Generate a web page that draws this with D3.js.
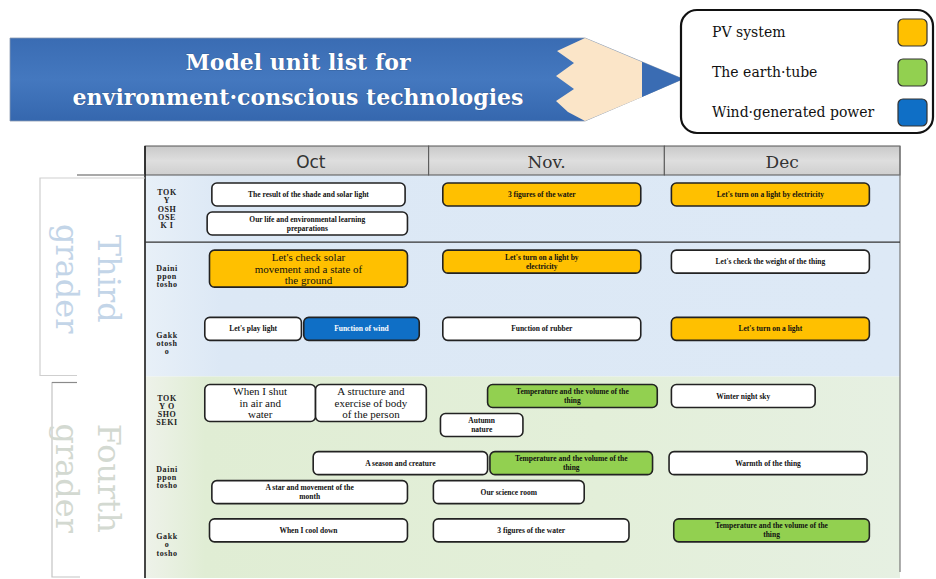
<!DOCTYPE html>
<html><head><meta charset="utf-8">
<script src="https://cdn.jsdelivr.net/npm/d3@7"></script>
<style>html,body{margin:0;padding:0;background:#fff}svg{display:block}</style>
</head><body>
<svg id="chart" width="936" height="579"></svg>
<script>
// ---------------- data ----------------
const titleLines = ["Model unit list for", "environment·conscious technologies"];
const months = ["Oct", "Nov.", "Dec"];
const gradeLabels = [["Third", "grader"], ["Fourth", "grader"]];
const rowLabels = [
  ["TOK", "Y", "OSH", "OSE", "K I"],
  ["Daini", "ppon", "tosho"],
  ["Gakk", "otosh", "o"],
  ["TOK", "Y O", "SHO", "SEKI"],
  ["Daini", "ppon", "tosho"],
  ["Gakk", "o", "tosho"]
];
const legendLabels = ["PV system", "The earth·tube", "Wind·generated power"];
const legendKeys = ["pv", "earth", "wind"];

const unitTitles = [
  "The result of the shade and solar light",
  "Our life and environmental learning\npreparations",
  "3 figures of the water",
  "Let's turn on a light by electricity",
  "Let's check solar\nmovement and a state of\nthe ground",
  "Let's turn on a light by\nelectricity",
  "Let's check the weight of the thing",
  "Let's play light",
  "Function of wind",
  "Function of rubber",
  "Let's turn on a light",
  "When I shut\nin air and\nwater",
  "A structure and\nexercise of body\nof the person",
  "Temperature and the volume of the\nthing",
  "Autumn\nnature",
  "Winter night sky",
  "A season and creature",
  "Temperature and the volume of the\nthing",
  "Warmth of the thing",
  "A star and movement of the\nmonth",
  "Our science room",
  "When I cool down",
  "3 figures of the water",
  "Temperature and the volume of the\nthing"
];
const unitRow   = [0,0,0,0, 1,1,1, 2,2,2,2, 3,3,3,3,3, 4,4,4,4,4, 5,5,5];
const unitLane  = [0,1,0,0, 0,0,0, 0,0,0,0, 0,0,0,1,0, 0,0,0,1,1, 0,0,0];
const unitStart = [0.08,0.06,1.06,2.03, 0.07,1.06,2.03, 0.05,0.47,1.06,2.03, 0.05,0.52,1.25,1.05,2.03, 0.51,1.26,2.02,0.08,1.02, 0.07,1.02,2.04];
const unitEnd   = [0.90,0.91,1.90,2.87, 0.91,1.90,2.87, 0.46,0.96,1.90,2.87, 0.52,0.99,1.97,1.40,2.64, 1.25,1.95,2.86,0.91,1.66, 0.91,1.85,2.87];
const unitTech  = ["none","none","pv","pv", "pv","pv","none", "none","wind","none","pv",
                   "none","none","earth","none","none", "none","earth","none","none","none",
                   "none","none","earth"];

// ---------------- styles ----------------
const techColor = {pv: "#ffc000", earth: "#92d050", wind: "#0f6fc6", none: "#ffffff"};
const svg = d3.select("#chart");
const defs = svg.append("defs");

// scales
const x = d3.scaleLinear().domain([0, 3]).range([193, 900]);
const y = d3.scaleBand().domain(d3.range(rowLabels.length)).range([175, 578]);
const tableLeft = 145, tableRight = 900, headTop = 146, headBot = 175;

// ---------------- title banner (pencil) ----------------
const g1 = defs.append("linearGradient").attr("id", "bannerG").attr("x1", 0).attr("y1", 0).attr("x2", 0).attr("y2", 1);
g1.append("stop").attr("offset", "0%").attr("stop-color", "#3a6cb3");
g1.append("stop").attr("offset", "50%").attr("stop-color", "#4478bf");
g1.append("stop").attr("offset", "100%").attr("stop-color", "#3567ae");

const banner = svg.append("g");
banner.append("path")
  .attr("d", "M10,38 H585 L683,79 L585,121 H10 Z")
  .attr("fill", "url(#bannerG)").attr("stroke", "#8a9bb0").attr("stroke-width", 0.8);
banner.append("path")
  .attr("d", "M585,38 L642,62 L642,97 L585,121 L568,112 L556,101 L574,89 L556,76 L574,63 L557,51 Z")
  .attr("fill", "#fbe5c8");
banner.append("path")
  .attr("d", "M642,62 L683,79 L642,97 Z").attr("fill", "#3a6cb3");
banner.selectAll("text.title").data(titleLines).join("text")
  .attr("class", "title")
  .attr("x", 298).attr("y", (d, i) => 70 + i * 35)
  .attr("text-anchor", "middle")
  .attr("font-family", "'DejaVu Serif', serif").attr("font-weight", "bold").attr("font-size", 22)
  .attr("fill", "#ffffff")
  .style("paint-order", "stroke").attr("stroke", "#2a4d80").attr("stroke-width", 0.6)
  .text(d => d);

// ---------------- legend ----------------
const leg = svg.append("g");
leg.append("rect").attr("x", 681).attr("y", 10).attr("width", 252).attr("height", 123).attr("rx", 16)
  .attr("fill", "#fff").attr("stroke", "#111").attr("stroke-width", 2.2);
const legY = d3.scalePoint().domain(legendKeys).range([32, 112]);
leg.selectAll("text").data(legendLabels).join("text")
  .attr("x", 712).attr("y", (d, i) => legY(legendKeys[i]) + 5)
  .attr("font-family", "'DejaVu Serif', serif").attr("font-size", 14).attr("fill", "#111")
  .text(d => d);
leg.selectAll("rect.sw").data(legendKeys).join("rect").attr("class", "sw")
  .attr("x", 898).attr("y", d => legY(d) - 13).attr("width", 29).attr("height", 27).attr("rx", 5)
  .attr("fill", d => techColor[d]).attr("stroke", "#333").attr("stroke-width", 1.2);

// ---------------- table backgrounds ----------------
const gb = defs.append("linearGradient").attr("id", "blueBg").attr("x1", 0).attr("y1", 0).attr("x2", 1).attr("y2", 0);
gb.append("stop").attr("offset", "0%").attr("stop-color", "#e8f0f8");
gb.append("stop").attr("offset", "10%").attr("stop-color", "#dce8f5");
gb.append("stop").attr("offset", "100%").attr("stop-color", "#dde9f6");
const gg = defs.append("linearGradient").attr("id", "greenBg").attr("x1", 0).attr("y1", 0).attr("x2", 1).attr("y2", 0);
gg.append("stop").attr("offset", "0%").attr("stop-color", "#eef2ea");
gg.append("stop").attr("offset", "8%").attr("stop-color", "#e0edd4");
gg.append("stop").attr("offset", "60%").attr("stop-color", "#e3efd9");
gg.append("stop").attr("offset", "100%").attr("stop-color", "#e6f0e2");

svg.append("rect").attr("x", tableLeft).attr("y", y(0)).attr("width", tableRight - tableLeft).attr("height", y(3) - y(0))
  .attr("fill", "url(#blueBg)");
svg.append("rect").attr("x", tableLeft).attr("y", y(3)).attr("width", tableRight - tableLeft).attr("height", 578 - y(3))
  .attr("fill", "url(#greenBg)");

// header
const gh = defs.append("linearGradient").attr("id", "headG").attr("x1", 0).attr("y1", 0).attr("x2", 0).attr("y2", 1);
gh.append("stop").attr("offset", "0%").attr("stop-color", "#c9c9c9");
gh.append("stop").attr("offset", "50%").attr("stop-color", "#dedede");
gh.append("stop").attr("offset", "100%").attr("stop-color", "#cfcfcf");
const headEdges = [tableLeft, x(1), x(2), tableRight];
svg.selectAll("rect.head").data(months).join("rect").attr("class", "head")
  .attr("x", (d, i) => headEdges[i]).attr("y", headTop)
  .attr("width", (d, i) => headEdges[i + 1] - headEdges[i]).attr("height", headBot - headTop)
  .attr("fill", "url(#headG)").attr("stroke", "#555").attr("stroke-width", 1);
svg.selectAll("text.month").data(months).join("text").attr("class", "month")
  .attr("x", (d, i) => x(i + 0.5)).attr("y", 168)
  .attr("text-anchor", "middle")
  .attr("font-family", (d, i) => i === 0 ? "'DejaVu Sans', sans-serif" : "'DejaVu Serif', serif")
  .attr("font-size", 17).attr("fill", "#333")
  .text(d => d);

// table lines
svg.append("line").attr("x1", tableLeft).attr("x2", tableLeft).attr("y1", headTop).attr("y2", 578)
  .attr("stroke", "#1a1a1a").attr("stroke-width", 1.6);
svg.append("line").attr("x1", tableRight).attr("x2", tableRight).attr("y1", headTop).attr("y2", 572)
  .attr("stroke", "#777").attr("stroke-width", 1.2);
svg.append("line").attr("x1", tableLeft).attr("x2", tableRight).attr("y1", y(1)).attr("y2", y(1))
  .attr("stroke", "#333").attr("stroke-width", 1.3);

// grade brackets
svg.append("path").attr("d", `M${tableLeft},${y(0)} H77`).attr("fill", "none").attr("stroke", "#555").attr("stroke-width", 1.2);
svg.append("path").attr("d", `M${tableLeft},178 H40 V${y(3) - 1} H77`).attr("fill", "none").attr("stroke", "#cfcfcf").attr("stroke-width", 1.2);
svg.append("path").attr("d", `M77,${y(3) + 6} H52 V577 H80`).attr("fill", "none").attr("stroke", "#c4c4c4").attr("stroke-width", 1.2);
svg.append("path").attr("d", `M77,${y(3) + 6} H52`).attr("fill", "none").attr("stroke", "#8a8a8a").attr("stroke-width", 1.2);

// grade labels (rotated)
const gradeCenters = [(y(0) + y(3)) / 2 + 3, (y(3) + 578) / 2 + 1];
const gradeColors = ["#c3d5e8", "#d3d9d1"];
gradeLabels.forEach((lines, gi) => {
  lines.forEach((t, li) => {
    svg.append("text")
      .attr("transform", `translate(${li === 0 ? 109 : 67},${gradeCenters[gi]}) rotate(90)`)
      .attr("text-anchor", "middle").attr("dominant-baseline", "central")
      .attr("font-family", "'DejaVu Serif', serif").attr("font-size", 32)
      .attr("fill", gradeColors[gi])
      .text(t);
  });
});

// row labels
const rl = svg.selectAll("g.rowlab").data(rowLabels).join("g").attr("class", "rowlab");
rl.each(function(lines, r) {
  const cy = y(r) + y.bandwidth() / 2;
  d3.select(this).selectAll("text").data(lines).join("text")
    .attr("x", 167).attr("y", (d, i) => cy + (i - (lines.length - 1) / 2) * 8.2 + 3)
    .attr("text-anchor", "middle")
    .attr("font-family", "'Liberation Serif', serif").attr("font-weight", "bold").attr("font-size", 8)
    .attr("letter-spacing", 0.6).attr("fill", "#222")
    .text(d => d);
});

// ---------------- unit boxes ----------------
const units = unitTitles.map((t, i) => ({
  lines: t.split("\n"), row: unitRow[i], lane: unitLane[i],
  s: unitStart[i], e: unitEnd[i], tech: unitTech[i]
}));
const laneY = d => y(d.row) + 8 + d.lane * 29;
const boxH = d => d.lines.length >= 3 ? 37 : 23;

const ug = svg.selectAll("g.unit").data(units).join("g").attr("class", "unit");
ug.append("rect")
  .attr("x", d => x(d.s)).attr("y", laneY)
  .attr("width", d => x(d.e) - x(d.s)).attr("height", boxH)
  .attr("rx", 5)
  .attr("fill", d => techColor[d.tech]).attr("stroke", "#222").attr("stroke-width", 1.6);
ug.each(function(d) {
  const big = d.lines.length >= 3;
  const fs = big ? 11 : 7.5, lh = big ? 11.5 : 9;
  const cy = laneY(d) + boxH(d) / 2;
  d3.select(this).selectAll("text").data(d.lines).join("text")
    .attr("x", (x(d.s) + x(d.e)) / 2)
    .attr("y", (t, i) => cy + (i - (d.lines.length - 1) / 2) * lh + fs * 0.35)
    .attr("text-anchor", "middle")
    .attr("font-family", "'Liberation Serif', serif")
    .attr("font-weight", big ? "normal" : "bold")
    .attr("font-size", fs)
    .attr("fill", d.tech === "wind" ? "#fff" : "#111")
    .text(t => t);
});
</script>
</body></html>
